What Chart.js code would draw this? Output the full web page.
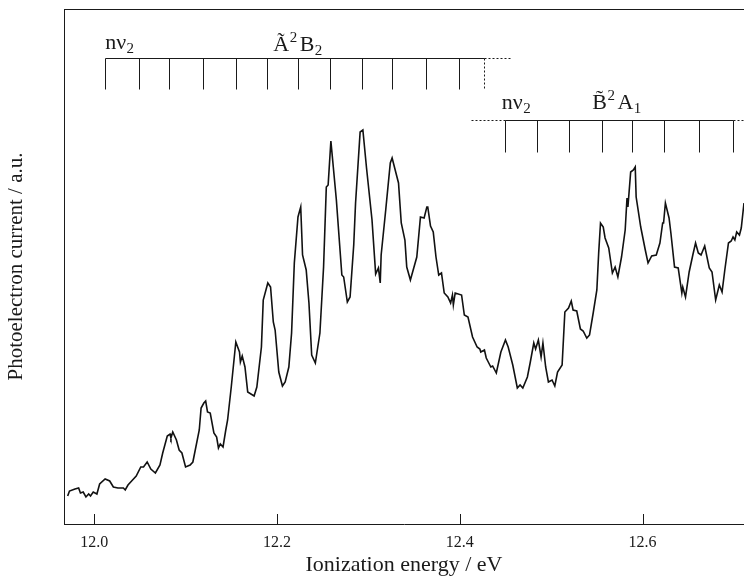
<!DOCTYPE html>
<html>
<head>
<meta charset="utf-8">
<script src="https://cdn.jsdelivr.net/npm/chart.js@4/dist/chart.umd.min.js"></script>
<style>
  html, body { margin: 0; padding: 0; background: #fff; }
</style>
</head>
<body>
<canvas id="myChart" width="744" height="578"></canvas>
<script>
// spectrum: ionization energy (eV) and photoelectron current (a.u.)
const energy = [
  11.971, 11.973, 11.979, 11.983, 11.985, 11.988, 11.991, 11.994, 11.996, 11.999,
  12.003, 12.006, 12.012, 12.017, 12.021, 12.026, 12.032, 12.034, 12.037, 12.041,
  12.046, 12.051, 12.054, 12.058, 12.062, 12.067, 12.072, 12.075, 12.080, 12.083,
  12.084, 12.086, 12.090, 12.093, 12.096, 12.100, 12.105, 12.108, 12.115, 12.117,
  12.120, 12.122, 12.124, 12.127, 12.131, 12.134, 12.136, 12.138, 12.141, 12.144,
  12.146, 12.150, 12.155, 12.159, 12.160, 12.162, 12.165, 12.168, 12.175, 12.178,
  12.183, 12.185, 12.190, 12.193, 12.196, 12.198, 12.202, 12.206, 12.209, 12.213,
  12.216, 12.219, 12.223, 12.226, 12.228, 12.232, 12.235, 12.238, 12.242, 12.247,
  12.251, 12.254, 12.256, 12.259, 12.265, 12.271, 12.273, 12.277, 12.280, 12.284,
  12.286, 12.291, 12.294, 12.298, 12.304, 12.308, 12.311, 12.313, 12.314, 12.319,
  12.324, 12.326, 12.333, 12.336, 12.340, 12.342, 12.346, 12.353, 12.357, 12.361,
  12.364, 12.365, 12.368, 12.371, 12.374, 12.377, 12.380, 12.383, 12.387, 12.390,
  12.392, 12.393, 12.395, 12.402, 12.405, 12.409, 12.414, 12.419, 12.422, 12.423,
  12.427, 12.429, 12.434, 12.436, 12.440, 12.445, 12.450, 12.453, 12.458, 12.463,
  12.466, 12.469, 12.474, 12.477, 12.481, 12.483, 12.486, 12.489, 12.491, 12.494,
  12.497, 12.501, 12.504, 12.507, 12.512, 12.515, 12.519, 12.522, 12.524, 12.528,
  12.532, 12.535, 12.539, 12.542, 12.546, 12.550, 12.552, 12.554, 12.557, 12.559,
  12.563, 12.567, 12.570, 12.573, 12.577, 12.581, 12.583, 12.584, 12.587, 12.590,
  12.592, 12.593, 12.598, 12.603, 12.606, 12.610, 12.615, 12.619, 12.622, 12.623,
  12.625, 12.629, 12.631, 12.635, 12.639, 12.643, 12.644, 12.647, 12.651, 12.655,
  12.658, 12.661, 12.664, 12.668, 12.673, 12.676, 12.680, 12.684, 12.687, 12.690,
  12.694, 12.697, 12.699, 12.701, 12.703, 12.706, 12.708, 12.711
];
const current = [
  19, 24, 26, 27, 22, 23, 18, 21, 19, 23,
  21, 31, 36, 34, 28, 27, 27, 25, 30, 34,
  39, 48, 48, 53, 46, 42, 50, 62, 79, 81,
  77, 83, 75, 65, 62, 48, 50, 53, 85, 107,
  112, 114, 103, 102, 82, 78, 67, 71, 68, 85,
  95, 128, 173, 163, 153, 159, 148, 123, 119, 128,
  168, 215, 232, 228, 193, 185, 143, 129, 133, 148,
  182, 252, 298, 308, 260, 245, 212, 160, 152, 182,
  248, 328, 330, 374, 315, 240, 238, 213, 218, 270,
  312, 383, 385, 347, 295, 241, 247, 232, 260, 305,
  352, 357, 332, 292, 275, 248, 235, 258, 298, 297,
  308, 308, 289, 283, 258, 240, 242, 222, 218, 212,
  220, 210, 222, 220, 200, 198, 178, 168, 166, 163,
  165, 157, 148, 149, 142, 163, 175, 168, 150, 127,
  130, 127, 138, 152, 172, 166, 175, 158, 172, 148,
  133, 135, 129, 143, 150, 203, 207, 214, 205, 204,
  186, 184, 177, 180, 202, 225, 262, 292, 288, 277,
  267, 242, 248, 238, 258, 285, 317, 308, 343, 345,
  348, 318, 288, 265, 252, 259, 260, 272, 292, 292,
  312, 297, 282, 248, 247, 222, 228, 218, 243, 260,
  272, 262, 260, 269, 247, 243, 215, 230, 223, 245,
  272, 274, 278, 275, 283, 280, 287, 312
];
const tickValues = [12.0, 12.2, 12.4, 12.6];

// vibrational progressions (eV) marked above the bands
const progressionA = [12.012, 12.049, 12.082, 12.119, 12.155, 12.189, 12.223, 12.258, 12.293, 12.326, 12.363, 12.399];
const progressionANext = 12.427;
const progressionB = [12.449, 12.484, 12.520, 12.556, 12.589, 12.624, 12.662, 12.699];

const serif = "'Liberation Serif', 'Times New Roman', serif";
const ink = '#1a1a1a';

function drawRich(ctx, x, y, parts) {
  let cx = x;
  parts.forEach(([text, kind]) => {
    const size = kind === 'n' ? 22 : 15;
    const dy = kind === 'sup' ? -9 : (kind === 'sub' ? 4 : 0);
    ctx.font = size + 'px ' + serif;
    ctx.fillText(text, cx, y + dy);
    cx += ctx.measureText(text).width + (kind === 'sup' ? 2.5 : 0.5);
  });
}

const annotations = {
  id: 'annotations',
  afterDraw(chart) {
    const { ctx, chartArea, scales: { x, y } } = chart;
    const px = v => Math.round(x.getPixelForValue(v)) + 0.5;
    const py = v => Math.round(y.getPixelForValue(v)) + 0.5;
    const seg = (x1, y1, x2, y2, dashed) => {
      ctx.setLineDash(dashed ? [2, 2] : []);
      ctx.beginPath();
      ctx.moveTo(x1, y1);
      ctx.lineTo(x2, y2);
      ctx.stroke();
    };
    ctx.save();
    ctx.strokeStyle = ink;
    ctx.lineWidth = 1;

    // frame top and inward ticks
    seg(chartArea.left, chartArea.top + 0.5, chartArea.right, chartArea.top + 0.5);
    tickValues.forEach(v => seg(px(v), chartArea.bottom, px(v), chartArea.bottom - 10));

    // A~ 2B2 progression
    const aTop = py(457), aBot = py(426);
    seg(px(progressionA[0]), aTop, px(progressionANext), aTop);
    seg(px(progressionANext), aTop, px(12.457), aTop, true);
    progressionA.forEach(v => seg(px(v), aTop, px(v), aBot));
    seg(px(progressionANext), aTop, px(progressionANext), aBot, true);

    // B~ 2A1 progression
    const bTop = py(395), bBot = py(363);
    seg(px(12.412), bTop, px(progressionB[0]), bTop, true);
    seg(px(progressionB[0]), bTop, px(progressionB[progressionB.length - 1]), bTop);
    seg(px(progressionB[progressionB.length - 1]), bTop, chartArea.right, bTop, true);
    progressionB.forEach(v => seg(px(v), bTop, px(v), bBot));

    ctx.setLineDash([]);
    ctx.fillStyle = ink;
    ctx.textBaseline = 'alphabetic';
    ctx.textAlign = 'left';
    drawRich(ctx, x.getPixelForValue(12.012), y.getPixelForValue(466), [['n\u03bd', 'n'], ['2', 'sub']]);
    drawRich(ctx, x.getPixelForValue(12.196), y.getPixelForValue(464), [['\u00c3', 'n'], ['2', 'sup'], ['B', 'n'], ['2', 'sub']]);
    drawRich(ctx, x.getPixelForValue(12.446), y.getPixelForValue(406), [['n\u03bd', 'n'], ['2', 'sub']]);
    drawRich(ctx, x.getPixelForValue(12.545), y.getPixelForValue(406), [['B\u0303', 'n'], ['2', 'sup'], ['A', 'n'], ['1', 'sub']]);
    ctx.restore();
  }
};

const ctx = document.getElementById('myChart').getContext('2d');
const myChart = new Chart(ctx, {
  type: 'line',
  data: {
    datasets: [{
      data: energy.map((e, i) => ({ x: e, y: current[i] })),
      borderColor: '#111',
      borderWidth: 1.6,
      pointRadius: 0,
      tension: 0,
      fill: false
    }]
  },
  options: {
    responsive: false,
    animation: false,
    layout: { padding: { top: 9, left: 0, right: 0, bottom: 0 } },
    plugins: { legend: { display: false }, tooltip: { enabled: false } },
    scales: {
      x: {
        type: 'linear',
        min: 11.967,
        max: 12.711,
        afterBuildTicks: s => { s.ticks = tickValues.map(v => ({ value: v })); },
        afterFit: s => { s.height = 54; },
        grid: { display: false },
        border: { display: true, color: ink, width: 1 },
        ticks: {
          padding: 1,
          autoSkip: false,
          maxRotation: 0,
          color: ink,
          font: { family: serif, size: 16 },
          callback: v => v.toFixed(1)
        },
        title: {
          display: true,
          text: 'Ionization energy / eV',
          color: ink,
          font: { family: serif, size: 22 },
          padding: { top: 0, bottom: 0 }
        }
      },
      y: {
        min: -9,
        max: 506,
        afterFit: s => { s.width = 64; },
        grid: { display: false },
        border: { display: true, color: ink, width: 1 },
        ticks: { display: false },
        title: {
          display: true,
          text: 'Photoelectron current / a.u.',
          color: ink,
          font: { family: serif, size: 21 },
          padding: { top: 4, bottom: 0 }
        }
      }
    }
  },
  plugins: [annotations]
});
</script>
</body>
</html>
